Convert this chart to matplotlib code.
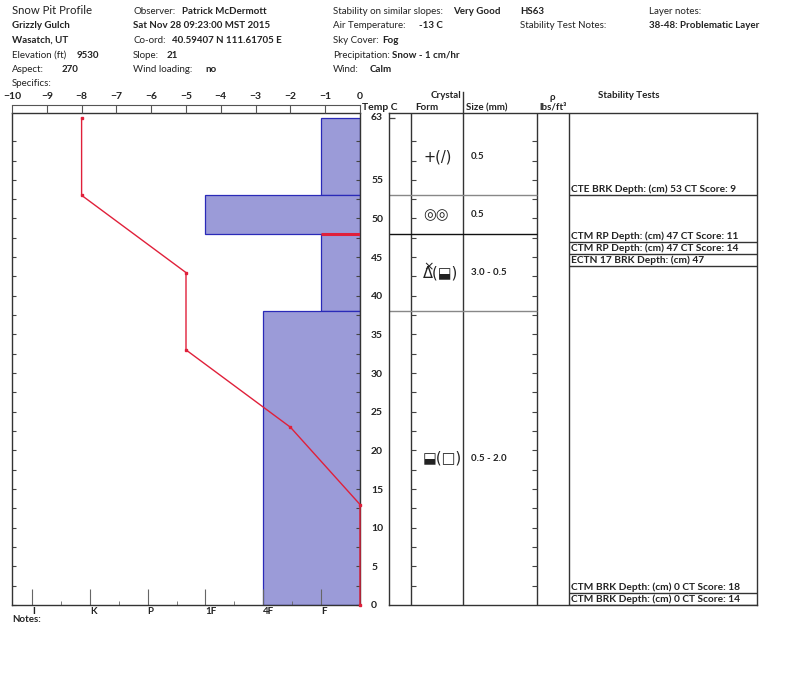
import numpy as np
import matplotlib
matplotlib.use("Agg")
import matplotlib.pyplot as plt

plt.rcParams["font.family"] = ["Lato", "DejaVu Sans"]
plt.rcParams["font.size"] = 7

# ---- data ----
layer_top = [63, 53, 48, 38]
layer_bottom = [53, 48, 38, 0]
layer_hardness = ["F", "1F", "F", "4F"]
crystal_form = ["+(/)", "◎◎", "Δ(⬓)", "⬓(□)"]
crystal_mark = ["", "", "×", ""]  # small sign drawn on top of the first symbol
crystal_size = ["0.5", "0.5", "3.0 - 0.5", "0.5 - 2.0"]

temp_depth = [63, 53, 43, 33, 23, 13, 0]
temp_c = [-8, -8, -5, -5, -2, 0, 0]

hardness_labels = ["I", "K", "P", "1F", "4F", "F"]
hardness_values = [6, 5, 4, 3, 2, 1]

test_names = [
    "CTE BRK Depth: (cm) 53 CT Score: 9",
    "CTM RP Depth: (cm) 47 CT Score: 11",
    "CTM RP Depth: (cm) 47 CT Score: 14",
    "ECTN 17 BRK Depth: (cm) 47",
    "CTM BRK Depth: (cm) 0 CT Score: 18",
    "CTM BRK Depth: (cm) 0 CT Score: 14",
]
test_depths = [53, 47, 47, 47, 0, 0]

problem_layer = (38, 48)
snow_height = 63

# ---- layout (pixels) ----
W, H = 800, 676
fig = plt.figure(figsize=(W / 100, H / 100), dpi=100)
fig.patch.set_facecolor("white")

top_px, bot_px = 113, 605
px_per_cm = (bot_px - 118) / 63.0
ytop = (bot_px - top_px) / px_per_cm


def frac(x0, x1):
    return [x0 / W, 1 - bot_px / H, (x1 - x0) / W, (bot_px - top_px) / H]


def ftext(x, y, s, bold=False, **kw):
    fig.text(x / W, 1 - y / H, s, fontweight="bold" if bold else "normal",
             va="center", color="#222222", **kw)


hard = dict(zip(hardness_labels, hardness_values))
x_edge = 0.327
x_left = 6.346

# ---- hardness / temperature panel ----
ax = fig.add_axes(frac(12, 360))
ax.set_xlim(x_left, x_edge)
ax.set_ylim(0, ytop)

for top, bottom, h in zip(layer_top, layer_bottom, layer_hardness):
    ax.barh(bottom, hard[h] - x_edge, left=x_edge, height=top - bottom,
            align="edge", color="#9b9bd8", edgecolor="#2a2ab8", linewidth=0.9,
            zorder=1)

ptop = problem_layer[1]
ph = layer_hardness[layer_top.index(ptop)]
ax.plot([hard[ph], x_edge], [ptop, ptop], color="#e0203a", lw=2.2,
        solid_capstyle="butt", zorder=3)

ax.set_xticks(hardness_values)
ax.set_xticklabels(hardness_labels, ha="left", fontweight="bold")
ax.set_xticks([v + 0.5 for v in hardness_values[1:]], minor=True)
ax.tick_params(axis="x", which="major", direction="in", length=11.5,
               top=True, bottom=True, pad=1.5, color="#666666", colors="#222222")
ax.tick_params(axis="x", which="minor", direction="in", length=3,
               top=True, bottom=True, color="#666666")

yt = np.arange(0, 61, 2.5)
ax.set_yticks(yt)
ax.set_yticklabels([str(int(v)) if v % 5 == 0 and v <= 55 else "" for v in yt],
                   fontweight="bold", fontsize=7.5)
ax.tick_params(axis="y", direction="in", length=3, left=True, right=True,
               labelleft=False, labelright=True, pad=8, color="#444444",
               colors="#222222")
ax.annotate(str(snow_height), xy=(1, snow_height),
            xycoords=("axes fraction", "data"), xytext=(8, 0),
            textcoords="offset points", va="center", ha="left",
            fontweight="bold", fontsize=7.5, color="#222222")
for s in ax.spines.values():
    s.set_color("#333333")
    s.set_linewidth(1)

axt = ax.twiny()
axt.set_xlim(-10, 0)
axt.plot(temp_c, temp_depth, color="#e0203a", lw=1, marker="s", ms=1.8,
         zorder=4, clip_on=False)
axt.spines["top"].set_position(("outward", 5.8))
for k in ["bottom", "left", "right"]:
    axt.spines[k].set_visible(False)
axt.spines["top"].set_color("#555555")
axt.set_xticks(np.arange(-10, 1, 1))
axt.set_xticklabels([str(v).replace("-", "\u2212") for v in range(-10, 1)],
                    fontweight="bold", fontsize=7.5)
axt.xaxis.set_ticks_position("top")
axt.tick_params(axis="x", direction="in", length=5.8, pad=3,
                color="#555555", colors="#222222")
ftext(362, 107, "Temp C", bold=True, fontsize=7.5)

# ---- crystal / stability table ----
c0, c_form, c_size, c_rho, c_stab, c_end = 389, 411, 463, 537, 569, 757
axc = fig.add_axes(frac(c0, c_end))
axc.set_xlim(c0, c_end)
axc.set_ylim(0, ytop)
axc.set_xticks([])
axc.set_yticks([])
for s in axc.spines.values():
    s.set_color("#333333")
    s.set_linewidth(1)
for xv in [c_form, c_size, c_rho, c_stab]:
    axc.axvline(xv, color="#333333", lw=1)

tk = np.arange(2.5, 61, 2.5)
axc.hlines(tk, c_form, c_form + 5, color="#444444", lw=0.8)
axc.hlines(tk, c_rho - 5, c_rho, color="#444444", lw=0.8)
axc.hlines(snow_height, c0, c0 + 6, color="#444444", lw=0.9)

for b in layer_top[1:]:
    col = "#111111" if b == problem_layer[1] else "#888888"
    axc.hlines(b, c0, c_rho, color=col, lw=1)

for top, bottom, form, mark, size in zip(layer_top, layer_bottom, crystal_form,
                                         crystal_mark, crystal_size):
    mid = (top + bottom) / 2
    axc.text(c_form + 12, mid, form, va="center", ha="left", fontsize=10.5,
             family=["DejaVu Sans"], color="#222222")
    if mark:
        axc.annotate(mark, xy=(c_form + 12, mid), xytext=(4.1, 4.4),
                     textcoords="offset points", va="center", ha="center",
                     fontsize=9, family=["DejaVu Sans"], color="#222222")
    axc.text(c_size + 8, mid, size, va="center", ha="left",
             fontweight="bold", color="#222222")

# header of the table
axc.plot([c_size, c_size], [ytop, ytop + 21 / px_per_cm], color="#333333",
         lw=1, clip_on=False)
ftext(461, 95, "Crystal", bold=True, ha="right")
ftext(415, 107.5, "Form", bold=True)
ftext(466, 107.5, "Size (mm)", bold=True)
ftext(552, 97, "ρ", bold=True, ha="center")
ftext(539, 107.5, "lbs/ft³", bold=True)
ftext(629, 95, "Stability Tests", bold=True, ha="center")

# stability tests, stacked when they share a depth
row_cm = 12.4 / px_per_cm
line_y = []
i = 0
while i < len(test_depths):
    j = i
    while j < len(test_depths) and test_depths[j] == test_depths[i]:
        j += 1
    ys = [test_depths[i] - k * row_cm for k in range(j - i)]
    if ys[-1] < 0:
        ys = [v - ys[-1] for v in ys]
    line_y += ys
    i = j
for name, yv in zip(test_names, line_y):
    axc.hlines(yv, c_stab, c_end, color="#333333", lw=1)
    axc.annotate(name, xy=(c_stab, yv), xytext=(1.5, 2.2),
                 textcoords="offset points", va="baseline", ha="left",
                 fontweight="bold", fontsize=7.3, color="#222222")

# ---- site header ----
ftext(12, 11, "Snow Pit Profile", fontsize=8.2)
ftext(12, 26, "Grizzly Gulch", bold=True)
ftext(12, 40.5, "Wasatch, UT", bold=True)
ftext(12, 55, "Elevation (ft)")
ftext(77, 55, "9530", bold=True)
ftext(12, 70, "Aspect:")
ftext(62, 70, "270", bold=True)
ftext(12, 83.5, "Specifics:")

ftext(133, 11, "Observer:")
ftext(182, 11, "Patrick McDermott", bold=True)
ftext(133, 26, "Sat Nov 28 09:23:00 MST 2015", bold=True)
ftext(133, 40.5, "Co-ord:")
ftext(172, 40.5, "40.59407 N 111.61705 E", bold=True)
ftext(133, 55, "Slope:")
ftext(167, 55, "21", bold=True)
ftext(133, 70, "Wind loading:")
ftext(205, 70, "no", bold=True)

ftext(333, 11, "Stability on similar slopes:")
ftext(453, 11, "Very Good", bold=True)
ftext(333, 26, "Air Temperature:")
ftext(419, 26, "-13 C", bold=True)
ftext(333, 40.5, "Sky Cover:")
ftext(382, 40.5, "Fog", bold=True)
ftext(333, 55, "Precipitation:")
ftext(392, 55, "Snow - 1 cm/hr", bold=True)
ftext(333, 70, "Wind:")
ftext(370, 70, "Calm", bold=True)

ftext(520, 11, "HS63", bold=True)
ftext(520, 26, "Stability Test Notes:")
ftext(649, 11, "Layer notes:")
ftext(649, 26, "38-48: Problematic Layer", bold=True)

ftext(12, 620, "Notes:", bold=True)

fig.savefig("out.png", dpi=100, facecolor="white")
